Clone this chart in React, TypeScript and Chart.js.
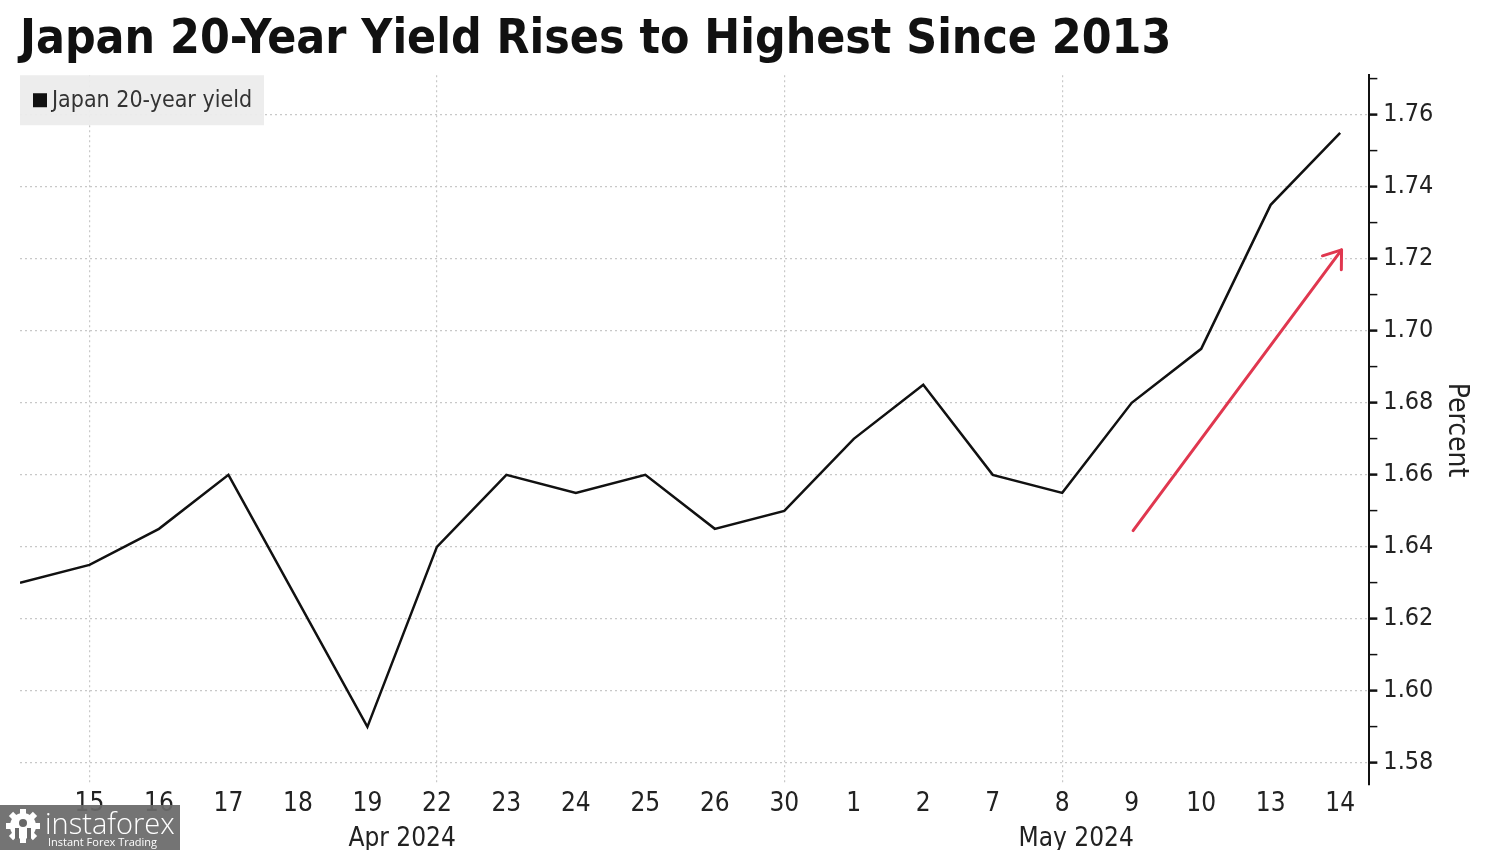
import React, { useEffect, useRef } from "react";
import { Chart, registerables } from "chart.js";

Chart.register(...registerables);

// ---- data ----
const dates = ["12", "15", "16", "17", "18", "19", "22", "23", "24", "25", "26", "30", "1", "2", "7", "8", "9", "10", "13", "14"];
const yields = [1.63, 1.635, 1.645, 1.66, 1.625, 1.59, 1.64, 1.66, 1.655, 1.66, 1.645, 1.65, 1.67, 1.685, 1.66, 1.655, 1.68, 1.695, 1.735, 1.755];
const hiddenTickIdx = [0];
const weekGridIdx = [1, 6, 11, 15];
const monthLabels = ["Apr 2024", "May 2024"];
const monthLabelAt = [5.5, 15.2];
const yMajorTicks = [1.58, 1.6, 1.62, 1.64, 1.66, 1.68, 1.7, 1.72, 1.74, 1.76];
const yMinorTicks = [1.59, 1.61, 1.63, 1.65, 1.67, 1.69, 1.71, 1.73, 1.75, 1.77];
const arrowFrom = { x: 16.02, y: 1.6445 };
const arrowTo = { x: 19.02, y: 1.7225 };
const seriesName = "Japan 20-year yield";
const titleText = "Japan 20-Year Yield Rises to Highest Since 2013";

const FAMILY = "'DejaVu Sans Condensed', 'DejaVu Sans', sans-serif";
const TEXT = "#222";
const GRID = "#c8c8c8";

const isMajor = (v: number) => yMajorTicks.some((m) => Math.abs(m - v) < 1e-6);

const overlayPlugin = {
  id: "overlay",
  afterDatasetsDraw(chart: any) {
    const { ctx, scales } = chart;
    const x1 = scales.x.getPixelForValue(arrowFrom.x);
    const y1 = scales.y.getPixelForValue(arrowFrom.y);
    const x2 = scales.x.getPixelForValue(arrowTo.x);
    const y2 = scales.y.getPixelForValue(arrowTo.y);
    ctx.save();
    ctx.strokeStyle = "#e0374f";
    ctx.lineWidth = 3;
    ctx.lineCap = "round";
    ctx.lineJoin = "round";
    ctx.beginPath();
    ctx.moveTo(x1, y1);
    ctx.lineTo(x2, y2);
    ctx.stroke();
    const ang = Math.atan2(y2 - y1, x2 - x1);
    const len = 20;
    const spread = Math.PI / 5;
    ctx.beginPath();
    ctx.moveTo(x2 - len * Math.cos(ang - spread), y2 - len * Math.sin(ang - spread));
    ctx.lineTo(x2, y2);
    ctx.lineTo(x2 - len * Math.cos(ang + spread), y2 - len * Math.sin(ang + spread));
    ctx.stroke();
    ctx.restore();
  },
  afterDraw(chart: any) {
    const { ctx, chartArea, scales } = chart;
    ctx.save();
    // legend box
    ctx.font = `23px ${FAMILY}`;
    const tw = ctx.measureText(seriesName).width;
    const lx = chartArea.left;
    const ly = chartArea.top;
    ctx.fillStyle = "rgba(236,236,236,0.95)";
    ctx.fillRect(lx, ly, 13 + 14 + 5 + tw + 12, 50);
    ctx.fillStyle = "#111";
    ctx.fillRect(lx + 13, ly + 18, 14, 14);
    ctx.fillStyle = "#333";
    ctx.textBaseline = "middle";
    ctx.textAlign = "left";
    ctx.fillText(seriesName, lx + 32, ly + 26);

    // month labels
    ctx.font = `26px ${FAMILY}`;
    ctx.fillStyle = TEXT;
    ctx.textAlign = "center";
    monthLabels.forEach((m, i) => {
      ctx.fillText(m, scales.x.getPixelForValue(monthLabelAt[i]), scales.x.bottom + 15);
    });

    // watermark
    ctx.fillStyle = "rgba(105,105,105,0.93)";
    ctx.fillRect(0, 805, 180, 45);
    const cx = 23, cy = 826;
    ctx.fillStyle = "#fff";
    for (let k = 0; k < 8; k++) {
      const a = (k * Math.PI) / 4;
      ctx.save();
      ctx.translate(cx, cy);
      ctx.rotate(a);
      ctx.fillRect(-3, -17, 6, 6);
      ctx.restore();
    }
    ctx.beginPath();
    ctx.arc(cx, cy, 13, 0, Math.PI * 2);
    ctx.fill();
    ctx.fillStyle = "rgba(105,105,105,1)";
    ctx.beginPath();
    ctx.arc(cx, cy - 3, 4, 0, Math.PI * 2);
    ctx.fill();
    ctx.fillRect(cx - 8, cy + 2, 4, 11);
    ctx.fillRect(cx + 4, cy + 2, 4, 11);
    ctx.fillStyle = "#fff";
    ctx.textAlign = "left";
    ctx.textBaseline = "alphabetic";
    ctx.font = `300 29px 'Open Sans', sans-serif`;
    ctx.fillText("instaforex", 45, 834);
    ctx.font = `11px 'Open Sans', sans-serif`;
    ctx.fillText("Instant Forex Trading", 48, 846);
    ctx.restore();
  },
};

export default function App() {
  const ref = useRef<HTMLCanvasElement | null>(null);
  useEffect(() => {
    if (!ref.current) return;
    const chart = new Chart(ref.current, {
      type: "line",
      data: {
        datasets: [
          {
            label: seriesName,
            data: yields.map((v, i) => ({ x: i, y: v })),
            borderColor: "#111",
            borderWidth: 2.5,
            pointRadius: 0,
            tension: 0,
            fill: false,
          },
        ],
      },
      options: {
        animation: false,
        responsive: true,
        maintainAspectRatio: false,
        layout: { padding: { left: 20, right: 21, top: 0, bottom: 26 } },
        plugins: {
          legend: { display: false },
          tooltip: { enabled: false },
          title: {
            display: true,
            text: titleText,
            align: "start",
            color: "#111",
            font: { family: FAMILY, size: 47.7, weight: "bold" },
            padding: { top: 12, bottom: 6 },
          },
        },
        scales: {
          x: {
            type: "linear",
            min: 0,
            max: 19.42,
            afterBuildTicks: (s: any) => {
              s.ticks = dates.map((_, i) => ({ value: i }));
            },
            ticks: {
              autoSkip: false,
              maxRotation: 0,
              color: TEXT,
              font: { family: FAMILY, size: 26 },
              padding: 4,
              callback: (v: any) => {
                const i = Math.round(Number(v));
                return hiddenTickIdx.includes(i) ? "" : dates[i];
              },
            },
            grid: {
              color: (c: any) => (c.tick && weekGridIdx.includes(Math.round(c.tick.value)) ? GRID : "rgba(0,0,0,0)"),
              lineWidth: 1.2,
              drawTicks: false,
            },
            border: { display: false, dash: [2, 3] },
          },
          y: {
            type: "linear",
            position: "right",
            min: 1.5739,
            max: 1.771,
            afterBuildTicks: (s: any) => {
              s.ticks = [...yMajorTicks, ...yMinorTicks].sort((a, b) => a - b).map((v) => ({ value: v }));
            },
            ticks: {
              autoSkip: false,
              color: TEXT,
              font: { family: FAMILY, size: 25 },
              padding: 6,
              callback: (v: any) => (isMajor(Number(v)) ? Number(v).toFixed(2) : ""),
            },
            grid: {
              color: (c: any) => (c.tick && isMajor(c.tick.value) ? GRID : "rgba(0,0,0,0)"),
              lineWidth: 1.2,
              drawTicks: true,
              tickLength: 8,
              tickColor: "#111",
              tickWidth: (c: any) => (c.tick && isMajor(c.tick.value) ? 2.5 : 1.5),
            },
            border: { display: true, color: "#111", width: 2, dash: [2, 3] },
            title: {
              display: true,
              text: "Percent",
              color: TEXT,
              font: { family: FAMILY, size: 28 },
              padding: { top: 6, bottom: 0 },
            },
          },
        },
      },
      plugins: [overlayPlugin],
    } as any);
    return () => chart.destroy();
  }, []);
  return (
    <div style={{ position: "fixed", left: 0, top: 0, width: 1500, height: 850, background: "#fff" }}>
      <canvas ref={ref} />
    </div>
  );
}
